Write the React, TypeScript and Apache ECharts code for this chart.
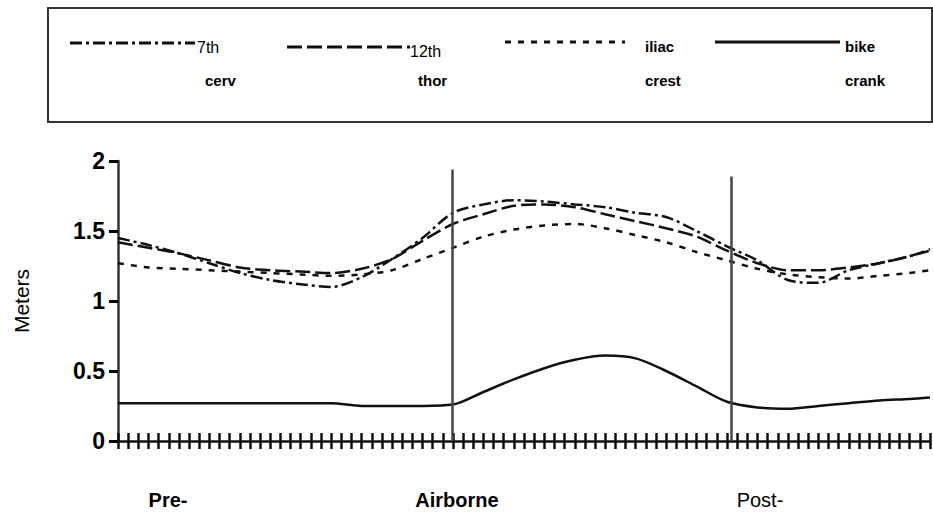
import React, { useEffect, useRef } from "react";
import * as echarts from "echarts";

// sample times (frame index)
const times = [0, 3, 6, 9, 12, 15, 18, 21, 24, 27, 30, 33, 36, 39, 42, 45, 48, 51, 54, 57, 60, 63, 66, 69, 72, 75, 78, 80];
const cerv7 = [1.45, 1.40, 1.34, 1.27, 1.20, 1.15, 1.12, 1.10, 1.17, 1.30, 1.45, 1.63, 1.69, 1.72, 1.71, 1.69, 1.67, 1.63, 1.60, 1.50, 1.39, 1.29, 1.15, 1.13, 1.22, 1.27, 1.32, 1.36];
const thor12 = [1.42, 1.38, 1.34, 1.29, 1.24, 1.22, 1.21, 1.20, 1.23, 1.30, 1.43, 1.55, 1.62, 1.68, 1.69, 1.67, 1.62, 1.57, 1.52, 1.46, 1.36, 1.27, 1.22, 1.22, 1.24, 1.27, 1.32, 1.37];
const iliacCrest = [1.27, 1.24, 1.23, 1.22, 1.21, 1.20, 1.19, 1.18, 1.19, 1.22, 1.30, 1.38, 1.46, 1.51, 1.54, 1.55, 1.52, 1.47, 1.42, 1.35, 1.29, 1.23, 1.19, 1.17, 1.16, 1.18, 1.20, 1.22];
const bikeCrank = [0.27, 0.27, 0.27, 0.27, 0.27, 0.27, 0.27, 0.27, 0.25, 0.25, 0.25, 0.26, 0.35, 0.44, 0.52, 0.58, 0.61, 0.59, 0.50, 0.39, 0.28, 0.24, 0.23, 0.25, 0.27, 0.29, 0.30, 0.31];

const seriesNames = ["7th cerv", "12th thor", "iliac crest", "bike crank"];
const legendTop = ["7th", "12th", "iliac", "bike"];
const legendBottom = ["cerv", "thor", "crest", "crank"];
const phaseNames = ["Pre-", "Airborne", "Post-"];
const takeoffTime = 32.9;
const landingTime = 60.4;
const yTicks = [0, 0.5, 1, 1.5, 2];

const FONT = "Liberation Sans, Arial, sans-serif";

export default function App() {
  const ref = useRef<HTMLDivElement>(null);
  useEffect(() => {
    if (!ref.current) return;
    const chart = echarts.init(ref.current, undefined, { renderer: "svg" });
    const dashes: any[] = [[12, 4, 3, 4], [15, 5], [6, 7], "solid"];
    const datasets = [cerv7, thor12, iliacCrest, bikeCrank];
    const series: any[] = datasets.map((d, i) => ({
      name: seriesNames[i],
      type: "line",
      data: d.map((v, j) => [times[j], v]),
      symbol: "none",
      smooth: 0.3,
      lineStyle: { color: "#111", width: 2.5, type: dashes[i] },
      z: 3,
    }));
    series[3].markLine = {
      silent: true,
      symbol: "none",
      label: { show: false },
      lineStyle: { color: "#444", width: 2.5, type: "solid" },
      data: [
        [{ coord: [takeoffTime, 0] }, { coord: [takeoffTime, 1.94] }],
        [{ coord: [landingTime, 0] }, { coord: [landingTime, 1.89] }],
      ],
    };

    const legendX = [70, 287, 505, 715];
    const legendLineW = [125, 123, 120, 125];
    const legendTextX = [197, 410, 645, 845];
    const legendLineY = [43, 47, 42, 42];
    const graphic: any[] = [
      {
        type: "rect",
        shape: { x: 48, y: 8, width: 884, height: 114 },
        style: { fill: "none", stroke: "#333", lineWidth: 2 },
      },
    ];
    for (let i = 0; i < 4; i++) {
      graphic.push({
        type: "line",
        shape: { x1: legendX[i], y1: legendLineY[i], x2: legendX[i] + legendLineW[i], y2: legendLineY[i] },
        style: {
          stroke: "#111",
          lineWidth: 3,
          lineDash: dashes[i] === "solid" ? null : dashes[i],
        },
      });
      const topBold = i >= 2;
      graphic.push({
        type: "text",
        x: legendTextX[i],
        y: legendLineY[i] + 4,
        style: {
          text: legendTop[i],
          font: `${topBold ? "bold 15px" : "16px"} ${FONT}`,
          fill: "#000",
          verticalAlign: "middle",
        },
      });
      graphic.push({
        type: "text",
        x: legendTextX[i] + (i < 2 ? 8 : 0),
        y: 80,
        style: { text: legendBottom[i], font: `bold 15px ${FONT}`, fill: "#000", verticalAlign: "middle" },
      });
    }
    const phaseX = [168, 457, 760];
    phaseNames.forEach((p, i) => {
      graphic.push({
        type: "text",
        x: phaseX[i],
        y: 500,
        style: {
          text: p,
          font: `${i < 2 ? "bold " : ""}20px ${FONT}`,
          fill: "#000",
          align: "center",
          verticalAlign: "middle",
        },
      });
    });

    chart.setOption({
      animation: false,
      backgroundColor: "#fff",
      grid: { left: 118, right: 3, top: 161, bottom: 74, containLabel: false },
      xAxis: [
        {
          type: "value",
          min: 0,
          max: 80,
          interval: 1,
          axisLine: { show: true, onZero: false, lineStyle: { color: "#111", width: 2.5 } },
          axisTick: { show: true, length: 8, lineStyle: { color: "#111", width: 2.5 } },
          axisLabel: { show: false },
          splitLine: { show: false },
        },
        {
          type: "value",
          position: "bottom",
          min: 0,
          max: 80,
          interval: 1,
          axisLine: { show: false },
          axisTick: { show: true, inside: true, length: 8, lineStyle: { color: "#111", width: 2.5 } },
          axisLabel: { show: false },
          splitLine: { show: false },
        },
      ],
      yAxis: {
        type: "value",
        min: yTicks[0],
        max: yTicks[yTicks.length - 1],
        interval: 0.5,
        name: "Meters",
        nameLocation: "middle",
        nameGap: 86,
        nameTextStyle: { fontFamily: FONT, fontSize: 21, color: "#000" },
        axisLine: { show: true, lineStyle: { color: "#333", width: 2.5 } },
        axisTick: { show: true, length: 9, lineStyle: { color: "#000", width: 3 } },
        axisLabel: { fontFamily: FONT, fontSize: 23, fontWeight: "bold", color: "#000", margin: 13 },
        splitLine: { show: false },
      },
      series,
      graphic,
    });
    return () => chart.dispose();
  }, []);
  return <div ref={ref} style={{ width: 933, height: 515, position: "absolute", left: 0, top: 0 }} />;
}
